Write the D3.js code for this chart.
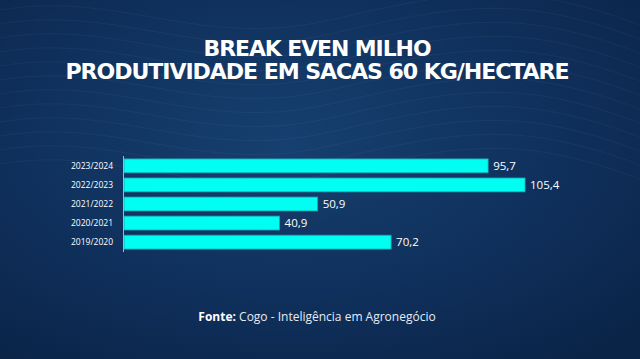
<!DOCTYPE html>
<html><head><meta charset="utf-8">
<script src="https://cdn.jsdelivr.net/npm/d3@7"></script>
<style>html,body{margin:0;padding:0;background:#0c2a52;}svg{display:block;}</style>
</head><body>
<script>
const categories = ["2023/2024","2022/2023","2021/2022","2020/2021","2019/2020"];
const values = [95.7,105.4,50.9,40.9,70.2];
const valueLabels = ["95,7","105,4","50,9","40,9","70,2"];
const titleLines = ["BREAK EVEN MILHO","PRODUTIVIDADE EM SACAS 60 KG/HECTARE"];
const titleWidths = [227,503];

const W=640,H=359;
const svg=d3.select("body").append("svg").attr("width",W).attr("height",H);
const defs=svg.append("defs");
const rg=defs.append("radialGradient").attr("id","bg").attr("cx","45%").attr("cy","40%").attr("r","75%");
rg.append("stop").attr("offset","0%").attr("stop-color","#16406f");
rg.append("stop").attr("offset","60%").attr("stop-color","#0f2f5b");
rg.append("stop").attr("offset","100%").attr("stop-color","#0a2447");
svg.append("rect").attr("width",W).attr("height",H).attr("fill","url(#bg)");

// faint contour texture
const tex=svg.append("g").attr("fill","none").attr("stroke","#ffffff").attr("stroke-opacity",0.05).attr("stroke-width",0.8);
for(let i=0;i<12;i++){
  const y0=10+i*14;
  tex.append("path").attr("d",`M0,${y0} C120,${y0-20} 200,${y0+40} 330,${y0+10} S520,${y0-30} 640,${y0+15}`);
}

const x=d3.scaleLinear().domain([0,110]).range([124,124+110*3.805]);
const y=d3.scaleBand().domain(categories).range([157,251]).paddingInner(0.27).paddingOuter(0.1);

svg.append("g").selectAll("rect").data(values).join("rect")
  .attr("x",x(0)).attr("y",(d,i)=>y(categories[i]))
  .attr("width",d=>x(d)-x(0)).attr("height",y.bandwidth())
  .attr("fill","#00fff2").attr("stroke","#1b9fb0").attr("stroke-width",0.8);

svg.append("line").attr("x1",123.5).attr("x2",123.5).attr("y1",156).attr("y2",252)
  .attr("stroke","#a9b4c4").attr("stroke-width",1);

svg.append("g").selectAll("text").data(categories).join("text")
  .attr("x",113).attr("y",d=>y(d)+y.bandwidth()/2).attr("dy","0.35em")
  .attr("text-anchor","end").attr("fill","#ffffff").attr("font-family","'Open Sans', sans-serif")
  .attr("font-size",8.5).text(d=>d);

svg.append("g").selectAll("text").data(values).join("text")
  .attr("x",d=>x(d)+5).attr("y",(d,i)=>y(categories[i])+y.bandwidth()/2).attr("dy","0.35em")
  .attr("fill","#ffffff").attr("font-family","'Open Sans', sans-serif")
  .attr("font-size",11.5).text((d,i)=>valueLabels[i]);

svg.append("g").selectAll("text").data(titleLines).join("text")
  .attr("x",(d,i)=>317-titleWidths[i]/2).attr("y",(d,i)=>56+i*23)
  .attr("textLength",(d,i)=>titleWidths[i]).attr("lengthAdjust","spacingAndGlyphs")
  .attr("fill","#ffffff").attr("font-family","'DejaVu Sans', sans-serif").attr("font-weight",700)
  .attr("font-size",20.5).attr("letter-spacing","-1px").text(d=>d);

const ft=svg.append("text").attr("x",317).attr("y",321).attr("text-anchor","middle")
  .attr("fill","#e6ebf2").attr("font-family","'Open Sans', sans-serif").attr("font-size",12);
ft.append("tspan").attr("font-weight",700).attr("fill","#ffffff").text("Fonte:");
ft.append("tspan").text(" Cogo - Inteligência em Agronegócio");
</script>
</body></html>
